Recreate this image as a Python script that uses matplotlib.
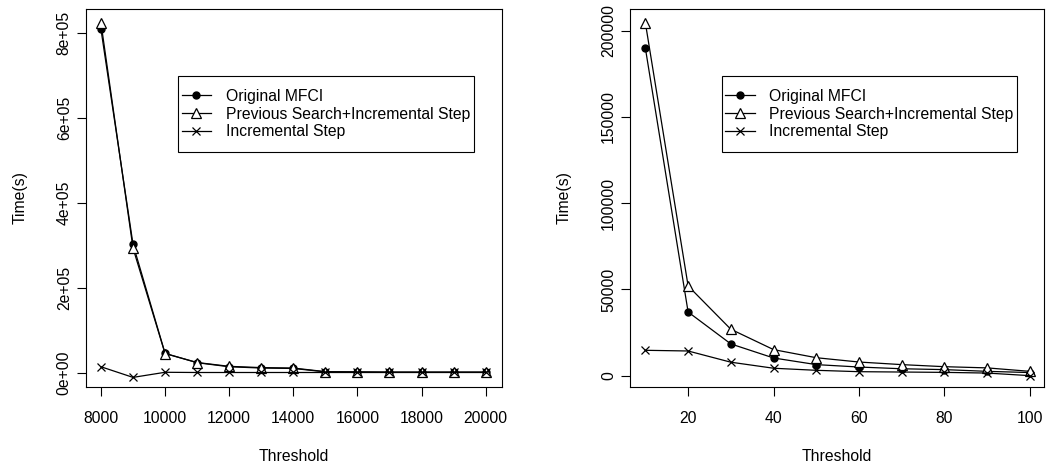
import matplotlib
matplotlib.use("Agg")
import matplotlib.pyplot as plt
from matplotlib.patches import Rectangle

plt.rcParams['font.family'] = ['Liberation Sans', 'DejaVu Sans']

# left panel: threshold 8000..20000
thr_a = [8000, 9000, 10000, 11000, 12000, 13000, 14000, 15000, 16000, 17000, 18000, 19000, 20000]
orig_a = [808000, 302000, 45500, 23500, 14000, 11000, 10000, 2000, 1500, 1000, 1000, 1000, 1000]
prev_a = [823000, 293000, 45000, 24000, 15000, 12000, 11000, 2500, 2000, 1500, 1500, 1500, 1500]
incr_a = [14000, -11000, 1000, 500, 500, 500, 500, 500, 500, 500, 500, 500, 500]
xticks_a = [8000, 10000, 12000, 14000, 16000, 18000, 20000]
yticks_a = [0, 200000, 400000, 600000, 800000]
ylabels_a = ["0e+00", "2e+05", "4e+05", "6e+05", "8e+05"]

# right panel: threshold 10..100
thr_b = [10, 20, 30, 40, 50, 60, 70, 80, 90, 100]
orig_b = [189800, 36900, 18400, 10250, 6400, 5000, 4000, 3500, 2500, 1800]
prev_b = [204500, 52000, 26900, 15100, 10400, 7900, 6400, 5200, 4500, 2500]
incr_b = [14700, 14300, 7800, 4300, 3100, 2300, 2100, 1900, 1500, 0]
xticks_b = [20, 40, 60, 80, 100]
yticks_b = [0, 50000, 100000, 150000, 200000]
ylabels_b = ["0", "50000", "100000", "150000", "200000"]

names = ["Original MFCI", "Previous Search+Incremental Step", "Incremental Step"]
FS = 11.3


def panel(ax, x, orig, prev, incr, xticks, yticks, ylabels, xlim, ylim):
    lw = 0.9
    ax.plot(x, orig, color='black', lw=lw, marker='o', ms=5, mfc='black', label=names[0])
    ax.plot(x, prev, color='black', lw=lw, marker='^', ms=7, mfc='white', mew=0.9, label=names[1])
    ax.plot(x, incr, color='black', lw=lw, marker='x', ms=6, mew=0.9, label=names[2])
    ax.set_xlim(*xlim)
    ax.set_ylim(*ylim)
    ax.set_xticks(xticks)
    ax.set_xticklabels([str(t) for t in xticks])
    ax.set_yticks(yticks)
    ax.set_yticklabels(ylabels, rotation=90, va='center')
    ax.tick_params(direction='out', length=6.5, width=0.8, labelsize=FS)
    ax.tick_params(axis='x', pad=11)
    ax.tick_params(axis='y', pad=3.5)
    for s in ax.spines.values():
        s.set_linewidth(0.8)
    ax.set_xlabel("Threshold", fontsize=FS, labelpad=16.5)
    ax.set_ylabel("Time(s)", fontsize=FS, labelpad=21)
    ax.add_patch(Rectangle((0.223, 0.621), 0.711, 0.203, transform=ax.transAxes,
                           fill=False, lw=0.8, ec='black'))
    ax.legend(loc='center left', bbox_to_anchor=(0.223, 0.7225), frameon=False,
              fontsize=FS, handlelength=1.9, handletextpad=0.9, borderpad=0.2,
              borderaxespad=0, labelspacing=0.17)


fig = plt.figure(figsize=(10.46, 4.65), dpi=100)
ax1 = fig.add_axes([0.0819, 0.1684, 0.3977, 0.8116])
ax2 = fig.add_axes([0.6023, 0.1684, 0.3958, 0.8116])

panel(ax1, thr_a, orig_a, prev_a, incr_a, xticks_a, yticks_a, ylabels_a,
      (7523, 20499), (-32900, 855000))
panel(ax2, thr_b, orig_b, prev_b, incr_b, xticks_b, yticks_b, ylabels_b,
      (6.4, 103.3), (-6400, 212400))

fig.savefig("out.png", dpi=100)
